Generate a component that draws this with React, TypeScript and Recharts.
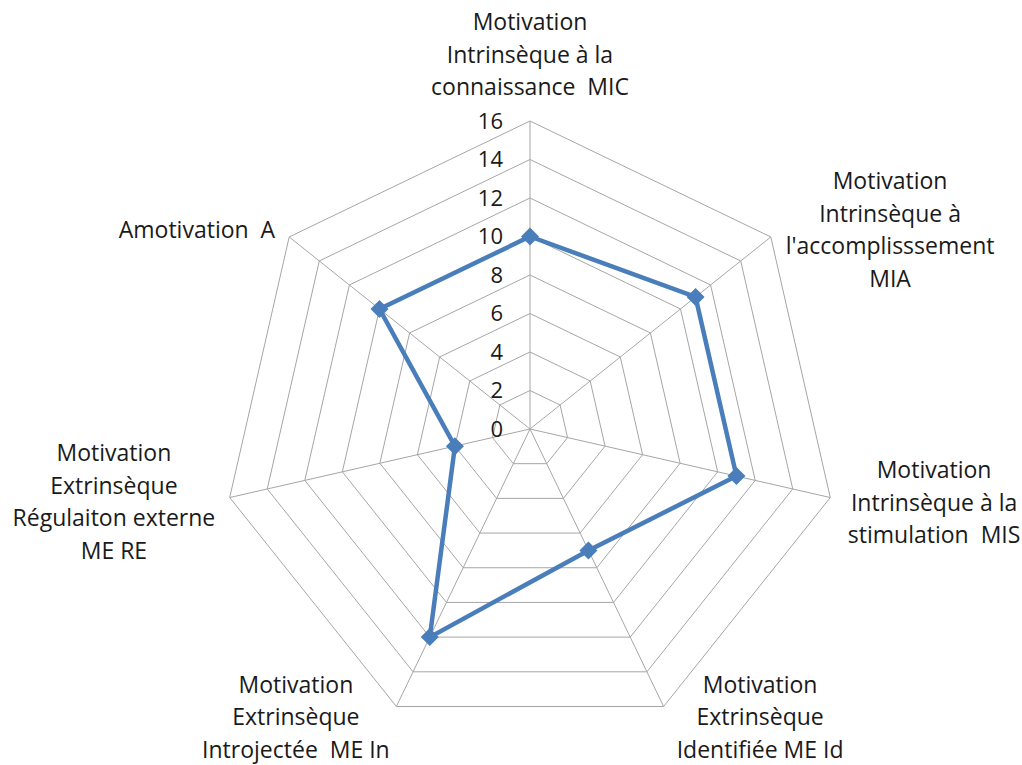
import React from "react";
import { RadarChart, Radar, PolarGrid, PolarAngleAxis, PolarRadiusAxis } from "recharts";

const CATEGORIES = ["MIC", "MIA", "MIS", "ME Id", "ME In", "ME RE", "A"];
const LABELS = [
  ["Motivation", "Intrinsèque à la", "connaissance  MIC"],
  ["Motivation", "Intrinsèque à", "l'accomplisssement", "MIA"],
  ["Motivation", "Intrinsèque à la", "stimulation  MIS"],
  ["Motivation", "Extrinsèque", "Identifiée ME Id"],
  ["Motivation", "Extrinsèque", "Introjectée  ME In"],
  ["Motivation", "Extrinsèque", "Régulaiton externe", "ME RE"],
  ["Amotivation  A"],
];
const VALUES = [10, 11, 11, 7, 12, 4, 10];
const RADIUS_TICKS = [0, 2, 4, 6, 8, 10, 12, 14, 16];

const data = CATEGORIES.map((c, i) => ({ cat: c, value: VALUES[i] }));

const FONT = "'Open Sans', sans-serif";
const CX = 530;
const CY = 429;
const R = 308;

// label block offsets from the tick point (center x, first line y)
const LABEL_OFFSETS = [
  [0, -91], [113, -51], [96, -29], [93, -29], [-97, -29], [-108, -46], [-86, -2],
];

function AngleTick(props: any) {
  const { x, y, index } = props;
  const lines = LABELS[index] ?? [];
  const [dx, dy] = LABEL_OFFSETS[index] ?? [0, 0];
  return (
    <text x={x + dx} y={y + dy} textAnchor="middle" fill="#1a1a1a" fontSize={23} fontFamily={FONT}>
      {lines.map((l, i) => (
        <tspan key={i} x={x + dx} dy={i === 0 ? "0.35em" : 32.5} style={{ whiteSpace: "pre" }}>
          {l}
        </tspan>
      ))}
    </text>
  );
}

function RadiusTick(props: any) {
  const { x, y, payload } = props;
  return (
    <text x={x - 27} y={y} dy="0.35em" textAnchor="end" fill="#1a1a1a" fontSize={22} fontFamily={FONT}>
      {payload.value}
    </text>
  );
}

const Diamond = (props: any) => {
  const { cx, cy } = props;
  const s = 9;
  return <path d={`M${cx},${cy - s}L${cx + s},${cy}L${cx},${cy + s}L${cx - s},${cy}Z`} fill="#4a7ebb" />;
};

export default function App() {
  return (
    <div style={{ position: "absolute", left: 0, top: 0, width: 1022, height: 765, background: "#fff" }}>
      <RadarChart width={1022} height={765} data={data} cx={CX} cy={CY} outerRadius={R} margin={{ top: 0, right: 0, bottom: 0, left: 0 }}>
        <PolarGrid gridType="polygon" stroke="#a6a6a6" strokeWidth={1} polarRadius={RADIUS_TICKS.map((t) => (t / 16) * R)} />
        <PolarAngleAxis dataKey="cat" tick={<AngleTick />} tickLine={false} axisLine={false} />
        <PolarRadiusAxis angle={90} domain={[0, 16]} ticks={RADIUS_TICKS} tickCount={9} tick={<RadiusTick />} axisLine={false} tickLine={false} />
        <Radar dataKey="value" stroke="#4a7ebb" strokeWidth={4.5} fill="none" fillOpacity={0} dot={<Diamond />} isAnimationActive={false} />
      </RadarChart>
    </div>
  );
}
